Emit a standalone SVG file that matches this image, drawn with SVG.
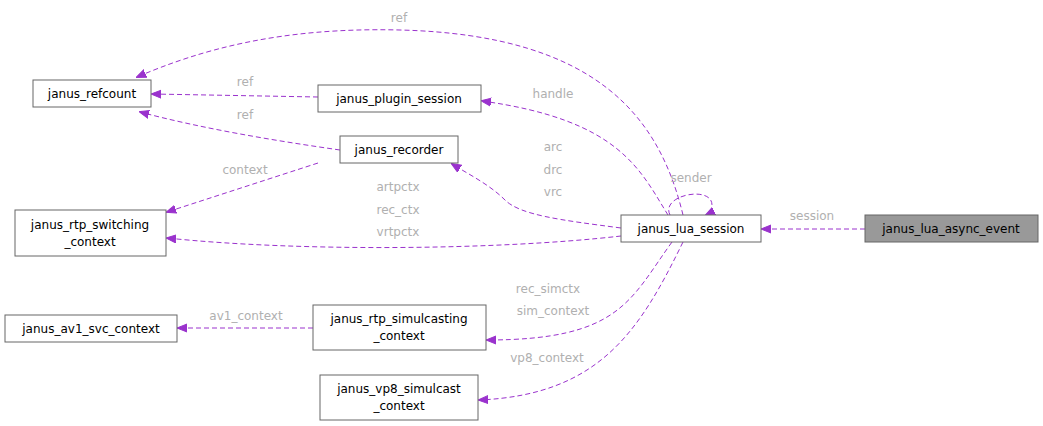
<svg xmlns="http://www.w3.org/2000/svg" width="1043" height="426" viewBox="0 0 1043 426">
<style>
.n rect{fill:#fff;stroke:#666;stroke-width:1}
.n text{font-family:"DejaVu Sans",sans-serif;font-size:12px;fill:#000;text-anchor:middle}
.e path{fill:none;stroke:#9a32cd;stroke-width:1;stroke-dasharray:5,3}
.l{font-family:"DejaVu Sans",sans-serif;font-size:12px;fill:#b0b0b0;text-anchor:middle}
</style>
<defs><marker id="a" viewBox="0 0 10 10" refX="9" refY="5" markerWidth="10" markerHeight="10" markerUnits="userSpaceOnUse" orient="auto"><path d="M0,1 L10,5 L0,9 z" fill="#9a32cd" stroke="#9a32cd"/></marker></defs>
<g class="e">
<path d="M865,229 L762,229" marker-end="url(#a)"/>
<path d="M683,215 C660,120 600,35 400,30 C280,27 200,50 137,77" marker-end="url(#a)"/>
<path d="M318,97 L152,94" marker-end="url(#a)"/>
<path d="M340,150 C270,140 200,128 140,112" marker-end="url(#a)"/>
<path d="M318,163 L167,212" marker-end="url(#a)"/>
<path d="M668,215 C640,170 620,120 482,101" marker-end="url(#a)"/>
<path d="M621,228 C560,220 520,215 505,200 C490,185 470,175 452,164" marker-end="url(#a)"/>
<path d="M621,236 C500,250 300,252 167,238" marker-end="url(#a)"/>
<path d="M670,215 C660,195 712,185 712,205 C712,210 710,213 706,215" marker-end="url(#a)"/>
<path d="M672,242 C630,300 620,340 487,340" marker-end="url(#a)"/>
<path d="M683,242 C640,330 600,395 479,400" marker-end="url(#a)"/>
<path d="M313,328 L178,328" marker-end="url(#a)"/>
</g>
<g>
<text class="l" x="812" y="220">session</text>
<text class="l" x="399" y="22">ref</text>
<text class="l" x="245" y="86">ref</text>
<text class="l" x="245" y="119">ref</text>
<text class="l" x="245" y="174">context</text>
<text class="l" x="553" y="98">handle</text>
<text class="l" x="553" y="151">arc</text>
<text class="l" x="553" y="174">drc</text>
<text class="l" x="553" y="196">vrc</text>
<text class="l" x="398" y="191">artpctx</text>
<text class="l" x="398" y="214">rec_ctx</text>
<text class="l" x="398" y="236">vrtpctx</text>
<text class="l" x="691" y="182">sender</text>
<text class="l" x="548" y="293">rec_simctx</text>
<text class="l" x="553" y="315">sim_context</text>
<text class="l" x="547" y="362">vp8_context</text>
<text class="l" x="246" y="320">av1_context</text>
</g>
<g id="refcount" class="n"><rect x="33" y="80" width="118" height="27"/><text x="92" y="98">janus_refcount</text></g>
<g id="plugin_session" class="n"><rect x="318" y="85" width="163" height="27"/><text x="399" y="103">janus_plugin_session</text></g>
<g id="recorder" class="n"><rect x="340" y="136" width="118" height="27"/><text x="399" y="154">janus_recorder</text></g>
<g id="rtp_switching" class="n"><rect x="15" y="210" width="151" height="46"/><text x="90" y="229">janus_rtp_switching</text><text x="90" y="246">_context</text></g>
<g id="lua_session" class="n"><rect x="621" y="215" width="140" height="27"/><text x="691" y="233">janus_lua_session</text></g>
<g id="lua_async_event" class="n"><rect x="865" y="215" width="173" height="27" style="fill:#999"/><text x="951" y="233">janus_lua_async_event</text></g>
<g id="av1" class="n"><rect x="5" y="315" width="172" height="27"/><text x="91" y="333">janus_av1_svc_context</text></g>
<g id="rtp_simulcasting" class="n"><rect x="313" y="305" width="173" height="45"/><text x="399" y="323">janus_rtp_simulcasting</text><text x="399" y="340">_context</text></g>
<g id="vp8" class="n"><rect x="320" y="375" width="158" height="45"/><text x="399" y="393">janus_vp8_simulcast</text><text x="399" y="410">_context</text></g>
</svg>
